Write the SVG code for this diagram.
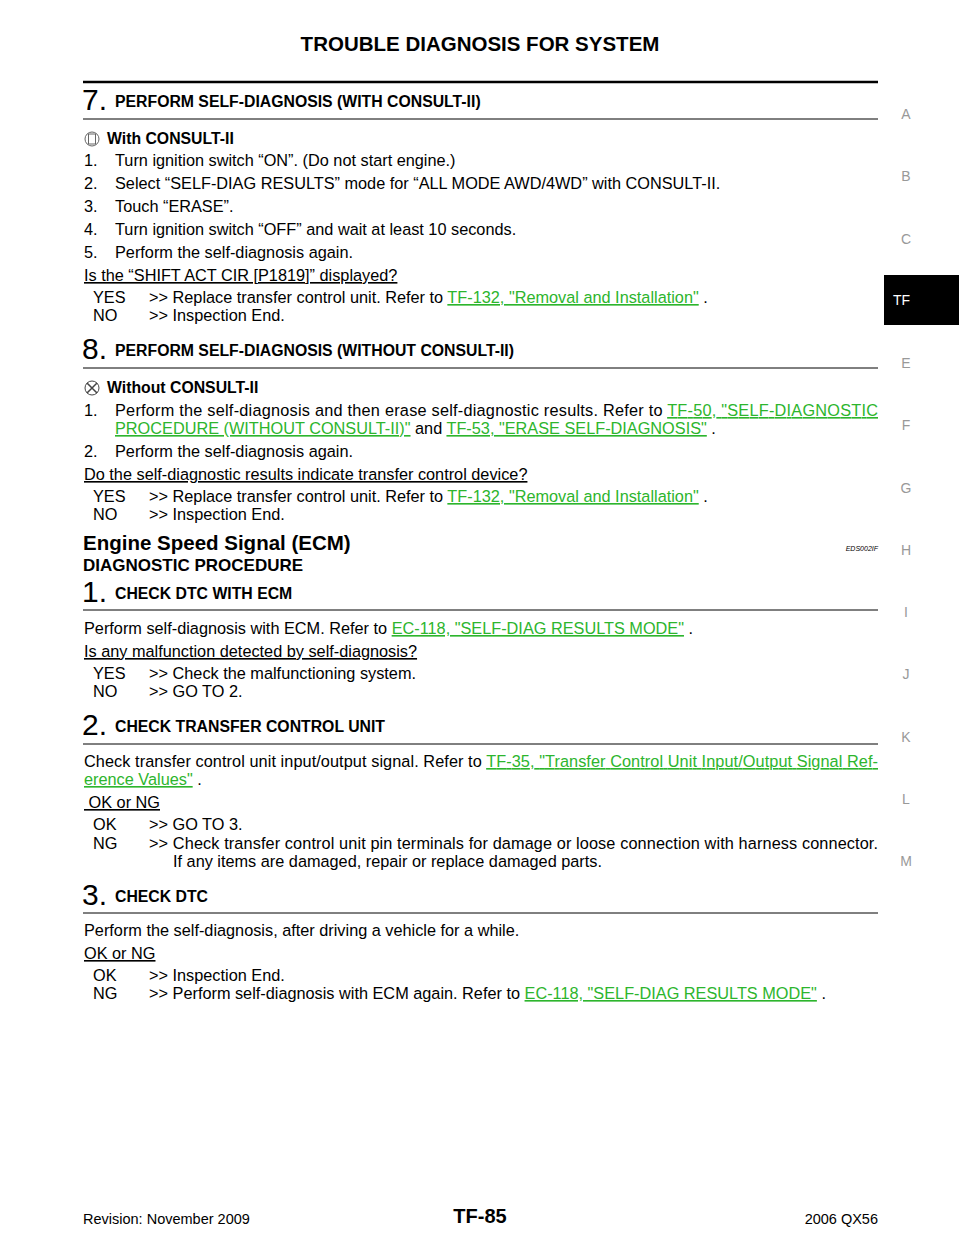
<svg xmlns="http://www.w3.org/2000/svg" width="960" height="1242" viewBox="0 0 960 1242">
<style>
text{font-family:"Liberation Sans",Arial,sans-serif;fill:#000}
.b{font-size:16.3px}
.h{font-size:15.8px;font-weight:bold}
.n{font-size:30px}
.l{fill:#2db52d;text-decoration:underline}
.u{text-decoration:underline}
.s{font-size:14px;fill:#999;text-anchor:middle}
</style>
<rect width="960" height="1242" fill="#fff"/>
<text x="480" y="51" font-size="20.5" font-weight="bold" text-anchor="middle">TROUBLE DIAGNOSIS FOR SYSTEM</text>
<line x1="83" y1="82" x2="878" y2="82" stroke="#000" stroke-width="2.5"/>
<g id="side">
<text class="s" x="906" y="119">A</text><text class="s" x="906" y="181">B</text><text class="s" x="906" y="244">C</text>
<rect x="884" y="275" width="75" height="50" fill="#000"/><text x="893" y="305" font-size="14" style="fill:#fff">TF</text>
<text class="s" x="906" y="368">E</text><text class="s" x="906" y="430">F</text><text class="s" x="906" y="493">G</text><text class="s" x="906" y="555">H</text><text class="s" x="906" y="617">I</text><text class="s" x="906" y="679">J</text><text class="s" x="906" y="742">K</text><text class="s" x="906" y="804">L</text><text class="s" x="906" y="866">M</text>
</g>
<g id="s7">
<text class="n" x="82" y="110">7.</text><text class="h" x="115" y="107">PERFORM SELF-DIAGNOSIS (WITH CONSULT-II)</text>
<line x1="83" y1="119" x2="878" y2="119" stroke="#000"/>
<circle cx="92" cy="139" r="7" fill="none" stroke="#666"/><rect x="88.5" y="134" width="7" height="10" fill="none" stroke="#666"/>
<text class="h" x="107" y="144">With CONSULT-II</text>
<text class="b" x="84" y="166">1.</text><text class="b" x="115" y="166">Turn ignition switch “ON”. (Do not start engine.)</text>
<text class="b" x="84" y="189">2.</text><text class="b" x="115" y="189">Select “SELF-DIAG RESULTS” mode for “ALL MODE AWD/4WD” with CONSULT-II.</text>
<text class="b" x="84" y="212">3.</text><text class="b" x="115" y="212">Touch “ERASE”.</text>
<text class="b" x="84" y="235">4.</text><text class="b" x="115" y="235">Turn ignition switch “OFF” and wait at least 10 seconds.</text>
<text class="b" x="84" y="258">5.</text><text class="b" x="115" y="258">Perform the self-diagnosis again.</text>
<text class="b u" x="84" y="281">Is the “SHIFT ACT CIR [P1819]” displayed?</text>
<text class="b" x="93" y="303">YES</text><text class="b" x="149" y="303">&gt;&gt; Replace transfer control unit. Refer to <tspan class="l">TF-132, "Removal and Installation"</tspan> .</text>
<text class="b" x="93" y="321">NO</text><text class="b" x="149" y="321">&gt;&gt; Inspection End.</text>
</g>
<g id="s8">
<text class="n" x="82" y="359">8.</text><text class="h" x="115" y="356">PERFORM SELF-DIAGNOSIS (WITHOUT CONSULT-II)</text>
<line x1="83" y1="368" x2="878" y2="368" stroke="#000"/>
<circle cx="92" cy="388" r="7" fill="none" stroke="#444"/><path d="M87 383L97 393M97 383L87 393" stroke="#444" stroke-width="1.5"/>
<text class="h" x="107" y="393">Without CONSULT-II</text>
<text class="b" x="84" y="416">1.</text><text class="b" x="115" y="416" textLength="763">Perform the self-diagnosis and then erase self-diagnostic results. Refer to <tspan class="l">TF-50, "SELF-DIAGNOSTIC</tspan></text>
<text class="b" x="115" y="434"><tspan class="l">PROCEDURE (WITHOUT CONSULT-II)"</tspan>  and <tspan class="l">TF-53, "ERASE SELF-DIAGNOSIS"</tspan> .</text>
<text class="b" x="84" y="457">2.</text><text class="b" x="115" y="457">Perform the self-diagnosis again.</text>
<text class="b u" x="84" y="480">Do the self-diagnostic results indicate transfer control device?</text>
<text class="b" x="93" y="502">YES</text><text class="b" x="149" y="502">&gt;&gt; Replace transfer control unit. Refer to <tspan class="l">TF-132, "Removal and Installation"</tspan> .</text>
<text class="b" x="93" y="520">NO</text><text class="b" x="149" y="520">&gt;&gt; Inspection End.</text>
</g>
<g id="ecm">
<text x="83" y="550" font-size="20.5" font-weight="bold">Engine Speed Signal (ECM)</text>
<text x="878" y="551" font-size="7" font-style="italic" text-anchor="end">EDS002IF</text>
<text x="83" y="571" font-size="17" font-weight="bold">DIAGNOSTIC PROCEDURE</text>
</g>
<g id="s1">
<text class="n" x="82" y="602">1.</text><text class="h" x="115" y="599">CHECK DTC WITH ECM</text>
<line x1="83" y1="610" x2="878" y2="610" stroke="#000"/>
<text class="b" x="84" y="634">Perform self-diagnosis with ECM. Refer to <tspan class="l">EC-118, "SELF-DIAG RESULTS MODE"</tspan> .</text>
<text class="b u" x="84" y="657">Is any malfunction detected by self-diagnosis?</text>
<text class="b" x="93" y="679">YES</text><text class="b" x="149" y="679">&gt;&gt; Check the malfunctioning system.</text>
<text class="b" x="93" y="697">NO</text><text class="b" x="149" y="697">&gt;&gt; GO TO 2.</text>
</g>
<g id="s2">
<text class="n" x="82" y="735">2.</text><text class="h" x="115" y="732">CHECK TRANSFER CONTROL UNIT</text>
<line x1="83" y1="744" x2="878" y2="744" stroke="#000"/>
<text class="b" x="84" y="767" textLength="794">Check transfer control unit input/output signal. Refer to <tspan class="l">TF-35, "Transfer Control Unit Input/Output Signal Ref-</tspan></text>
<text class="b" x="84" y="785"><tspan class="l">erence Values"</tspan> .</text>
<text class="b u" x="84" y="808" xml:space="preserve"> OK or NG</text>
<text class="b" x="93" y="830">OK</text><text class="b" x="149" y="830">&gt;&gt; GO TO 3.</text>
<text class="b" x="93" y="849">NG</text><text class="b" x="149" y="849" textLength="729">&gt;&gt; Check transfer control unit pin terminals for damage or loose connection with harness connector.</text>
<text class="b" x="173" y="867">If any items are damaged, repair or replace damaged parts.</text>
</g>
<g id="s3">
<text class="n" x="82" y="905">3.</text><text class="h" x="115" y="902">CHECK DTC</text>
<line x1="83" y1="913" x2="878" y2="913" stroke="#000"/>
<text class="b" x="84" y="936">Perform the self-diagnosis, after driving a vehicle for a while.</text>
<text class="b u" x="84" y="959">OK or NG</text>
<text class="b" x="93" y="981">OK</text><text class="b" x="149" y="981">&gt;&gt; Inspection End.</text>
<text class="b" x="93" y="999">NG</text><text class="b" x="149" y="999">&gt;&gt; Perform self-diagnosis with ECM again. Refer to <tspan class="l">EC-118, "SELF-DIAG RESULTS MODE"</tspan> .</text>
</g>
<g id="footer">
<text x="83" y="1224" font-size="14.5">Revision: November 2009</text>
<text x="480" y="1223" font-size="20" font-weight="bold" text-anchor="middle">TF-85</text>
<text x="878" y="1224" font-size="14.5" text-anchor="end">2006 QX56</text>
</g>
</svg>
